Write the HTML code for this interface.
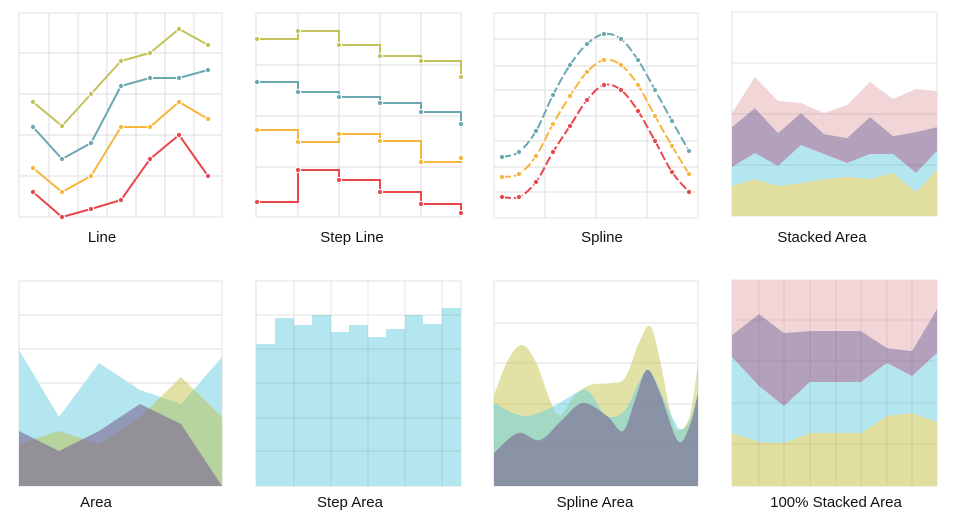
<!DOCTYPE html>
<html><head><meta charset="utf-8"><style>
body{margin:0;background:#fff}
svg{display:block}
text{font-family:"Liberation Sans",sans-serif;font-size:15px;fill:#111;text-anchor:middle}
</style></head><body>
<svg id="s" width="953" height="516" xmlns="http://www.w3.org/2000/svg"></svg>
<script>
const S=document.getElementById('s');let h='';
const G='#dedede';
function box(x1,y1,x2,y2){h+=`<rect x="${x1}" y="${y1}" width="${x2-x1}" height="${y2-y1}" fill="none" stroke="#ececec" stroke-width="1.5"/>`;}
function hl(ys,x1,x2,c){ys.forEach(y=>h+=`<line x1="${x1}" x2="${x2}" y1="${y}" y2="${y}" stroke="${c||G}"/>`);}
function vl(xs,y1,y2,c){xs.forEach(x=>h+=`<line x1="${x}" x2="${x}" y1="${y1}" y2="${y2}" stroke="${c||G}"/>`);}
function poly(p){return p.map((q,i)=>(i?'L':'M')+q[0]+' '+q[1]).join(' ');}
function spl(p){let d='M'+p[0][0]+' '+p[0][1];for(let i=0;i<p.length-1;i++){const p0=p[i-1]||p[i],p1=p[i],p2=p[i+1],p3=p[i+2]||p2;
d+=` C${p1[0]+(p2[0]-p0[0])/6} ${p1[1]+(p2[1]-p0[1])/6} ${p2[0]-(p3[0]-p1[0])/6} ${p2[1]-(p3[1]-p1[1])/6} ${p2[0]} ${p2[1]}`;}return d;}
function dots(p,c){p.forEach(q=>h+=`<circle cx="${q[0]}" cy="${q[1]}" r="2.6" fill="${c}" stroke="#fff" stroke-width="1"/>`);}
function area(xs,ys,base,fill,smooth){const p=xs.map((x,i)=>[x,ys[i]]);h+=`<path d="${(smooth?spl(p):poly(p))} L${xs[xs.length-1]} ${base} L${xs[0]} ${base} Z" fill="${fill}"/>`;}
function band(xs,top,bot,fill){let d=poly(xs.map((x,i)=>[x,top[i]]));for(let i=xs.length-1;i>=0;i--)d+=` L${xs[i]} ${bot[i]}`;h+=`<path d="${d} Z" fill="${fill}"/>`;}
const OL='#c3c25a',TE='#6aa9b0',OR='#f6b53f',RE='#e8474c';
// Line
box(19,13,222,217);hl([53,94,135,176],19,222);vl([49,78,107,136,165,194],13,217);
const lx=[33,62,91,121,150,179,208];
[[OL,[102,126,94,61,53,29,45]],[TE,[127,159,143,86,78,78,70]],[OR,[168,192,176,127,127,102,119]],[RE,[192,217,209,200,159,135,176]]].forEach(([c,ys])=>{const p=lx.map((x,i)=>[x,ys[i]]);h+=`<path d="${poly(p)}" fill="none" stroke="${c}" stroke-width="2"/>`;dots(p,c);});
// Step line
box(256,13,461,217);hl([65,116,167],256,461);vl([298,339,380,421],13,217);
const sx=[257,298,339,380,421,461];
[[OL,[39,31,45,56,61,77]],[TE,[82,92,97,103,112,124]],[OR,[130,142,134,141,162,158]],[RE,[202,170,180,192,204,213]]].forEach(([c,ys])=>{let d='M'+sx[0]+' '+ys[0];for(let i=1;i<sx.length;i++)d+=` L${sx[i]} ${ys[i-1]} L${sx[i]} ${ys[i]}`;h+=`<path d="${d}" fill="none" stroke="${c}" stroke-width="2"/>`;dots(sx.map((x,i)=>[x,ys[i]]),c);});
// Spline
box(494,13,698,218);hl([39,66,90,116,141,167,192],494,698);vl([545,596,647],13,218);
const px=[502,519,536,553,570,587,604,621,638,655,672,689];
[[TE,[157,152,131,95,65,44,34,39,60,90,121,151]],[OR,[177,174,156,124,96,72,60,65,85,116,146,174]],[RE,[197,197,182,152,126,100,85,90,111,141,172,192]]].forEach(([c,ys])=>{const p=px.map((x,i)=>[x,ys[i]]);h+=`<path d="${spl(p)}" fill="none" stroke="${c}" stroke-width="2" stroke-dasharray="9,3"/>`;dots(p,c);});
// Stacked area
box(732,12,937,216);
const ax=[732,755,778,801,824,847,870,893,916,937],B=ax.map(()=>216);
const o1=[186,179,186,183,179,177,179,173,192,170],c1=[167,153,166,145,154,163,154,154,173,151],p1=[127,108,133,113,134,138,117,136,132,127],k1=[113,77,101,103,113,105,82,99,89,91];
band(ax,o1,B,'#e0df9f');band(ax,c1,o1,'#b3e6ef');band(ax,p1,c1,'#b3a1bc');band(ax,k1,p1,'#f1d5d7');
hl([63,114,165],732,937,'rgba(0,0,0,0.1)');
// Area
box(19,281,222,486);hl([315,349,383,418,451],19,222);
const rx=[19,59,99,140,181,222];
area(rx,[350,417,363,390,404,357],486,'#b3e6ef');
area(rx,[444,431,444,417,377,417],486,'rgba(190,190,60,0.45)');
area(rx,[431,451,431,404,424,486],486,'rgba(122,100,146,0.6)');
// Step area
box(256,281,461,486);
const ex=[256,275,294,312,331,349,368,386,405,423,442,461],et=[344,318,325,315,332,325,337,329,315,324,308];
let d='M256 486';et.forEach((y,i)=>d+=` L${ex[i]} ${y} L${ex[i+1]} ${y}`);h+=`<path d="${d} L461 486 Z" fill="#b3e6ef"/>`;
hl([315,349,383,418,451],256,461,'rgba(0,0,0,0.1)');vl([294,331,368,405,442],281,486,'rgba(0,0,0,0.1)');
// Spline area
box(494,281,698,486);hl([323,363,404,445],494,698);
function sa(p,fill){h+=`<path d="${spl(p)} L698 486 L494 486 Z" fill="${fill}"/>`;}
sa([[494,395],[508,360],[522,345],[536,362],[550,400],[560,415],[575,395],[590,385],[610,383],[625,378],[638,345],[650,326],[660,360],[672,420],[680,430],[690,415],[698,363]],'rgba(190,190,60,0.45)');
sa([[494,403],[523,416],[550,408],[580,391],[590,393],[607,416],[625,410],[640,380],[650,371],[667,406],[680,429],[690,420],[698,393]],'rgba(100,205,225,0.5)');
sa([[494,453],[518,433],[540,440],[562,420],[583,403],[607,416],[623,431],[635,400],[647,370],[660,393],[678,441],[690,425],[698,393]],'rgba(122,100,146,0.6)');
// 100% stacked
box(732,280,937,486);
const qx=[732,759,784,810,836,861,887,912,937],QB=qx.map(()=>486),QT=qx.map(()=>280);
const qo=[433,442,443,433,433,433,416,413,422],qc=[357,386,406,382,382,382,363,376,353],qp=[335,314,333,331,331,331,348,351,309];
band(qx,qo,QB,'#e0df9f');band(qx,qc,qo,'#b3e6ef');band(qx,qp,qc,'#b3a1bc');band(qx,QT,qp,'#f1d5d7');
hl([320,361,403,444],732,937,'rgba(0,0,0,0.08)');vl([759,784,810,836,861,887,912],280,486,'rgba(0,0,0,0.08)');
// titles
[['Line',102,242],['Step Line',352,242],['Spline',602,242],['Stacked Area',822,242],['Area',96,507],['Step Area',350,507],['Spline Area',595,507],['100% Stacked Area',836,507]].forEach(t=>h+=`<text x="${t[1]}" y="${t[2]}">${t[0]}</text>`);
S.innerHTML=h;
</script>
</body></html>
